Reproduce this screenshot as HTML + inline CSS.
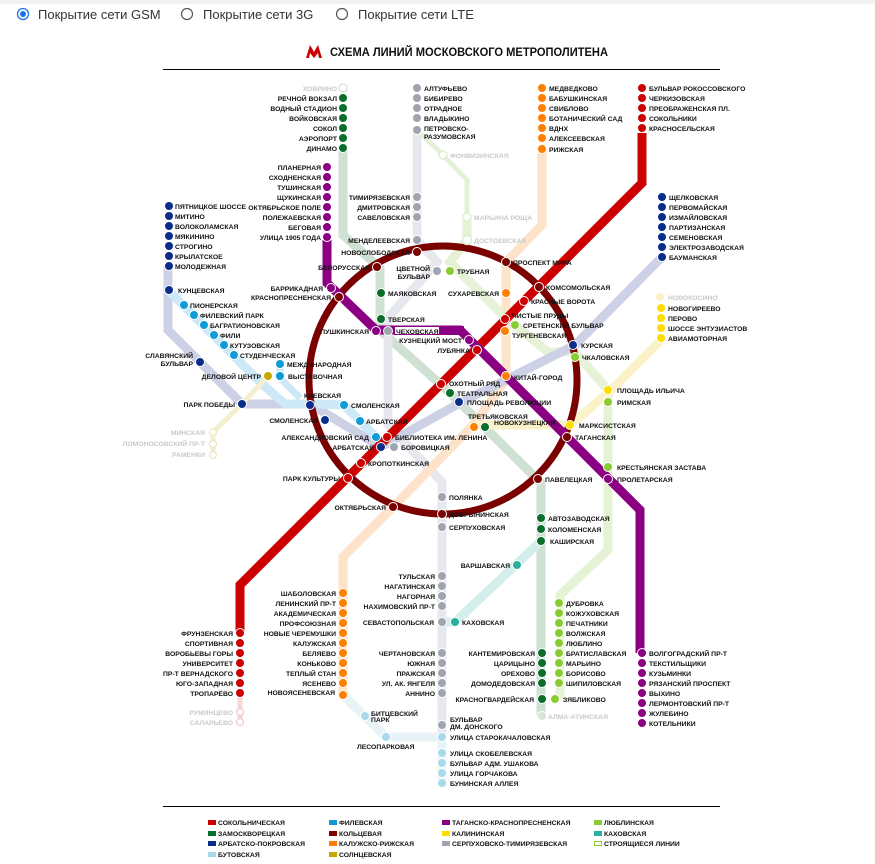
<!DOCTYPE html>
<html><head><meta charset="utf-8"><style>
html,body{margin:0;padding:0;background:#fff;width:875px;height:864px;overflow:hidden}
svg{position:absolute;left:0;top:0}
.t{font-family:"Liberation Sans","DejaVu Sans",sans-serif;font-weight:bold;font-size:6.8px;fill:#111}
.e{text-anchor:end}
.p{fill:#c9c9c9}
.r{font-family:"Liberation Sans","DejaVu Sans",sans-serif;font-size:13px;fill:#333}
</style></head><body>
<svg width="875" height="864" viewBox="0 0 875 864" xmlns="http://www.w3.org/2000/svg">
<rect x="0" y="0" width="875" height="4" fill="#f2f2f2"/>
<circle cx="23" cy="14" r="5.5" fill="#fff" stroke="#1a73e8" stroke-width="1.3"/><circle cx="23" cy="14" r="3" fill="#1a73e8"/>
<text class="r" x="38" y="19">Покрытие сети GSM</text>
<circle cx="187" cy="14" r="5.5" fill="#fff" stroke="#555" stroke-width="1.2"/>
<text class="r" x="203" y="19">Покрытие сети 3G</text>
<circle cx="342" cy="14" r="5.5" fill="#fff" stroke="#555" stroke-width="1.2"/>
<text class="r" x="358" y="19">Покрытие сети LTE</text>
<path d="M306,58 L310,45 L314,52 L318,45 L322,58 L319,58 L318,53 L314,58 L310,53 L309,58Z" fill="#c00"/>
<text x="330" y="56" font-family="Liberation Sans,sans-serif" font-weight="bold" font-size="11.5" fill="#111" textLength="278" lengthAdjust="spacingAndGlyphs">СХЕМА ЛИНИЙ МОСКОВСКОГО МЕТРОПОЛИТЕНА</text>
<line x1="163" y1="69.5" x2="720" y2="69.5" stroke="#000" stroke-width="1"/>
<line x1="163" y1="806.5" x2="720" y2="806.5" stroke="#000" stroke-width="1"/>

<g fill="none" stroke-linejoin="miter">
<path d="M343,150 V235 L380,268 V330 L450,393 L541,483 V716" stroke="#cfe1d2" stroke-width="9"/>
<path d="M417,130 V240 L437,262 L388,318 V425 L442,482 V737" stroke="#e7e8ed" stroke-width="9"/>
<path d="M542,150 V225 L506,262 V380 L474,424 L393,507 L343,557 V695" stroke="#fde3ca" stroke-width="9"/>
<path d="M417,130 L443,155 L467,180 V217" stroke="#e6f2d8" stroke-width="5"/>
<path d="M467,217 V240 L450,262 L506,318 L548,352 H575 L608,390 V550 L560,595 V699" stroke="#e5f2d6" stroke-width="9"/>
<path d="M168,266 V330 L200,362 L242,404 H310 L381,447 L460,403 L575,345 L662,257" stroke="#ccd1e6" stroke-width="9"/>
<path d="M168,290 L234,356 L262,384 L285,404 H310 L344,405 L376,437" stroke="#cde8f6" stroke-width="9"/>
<path d="M280,364 V378 L300,398" stroke="#cde8f6" stroke-width="7"/>
<path d="M661,340 L608,393 L570,425 H473" stroke="#fbf2c9" stroke-width="9"/>
<path d="M268,376 L242,404 L213,432 V456" stroke="#f4eecc" stroke-width="5"/>
<path d="M541,541 L455,622 H442" stroke="#d3eeeb" stroke-width="9"/>
<path d="M343,695 L386,737 H442 V783" stroke="#e8f3f8" stroke-width="9"/>
<path d="M240,640 V722" stroke="#f6d6d6" stroke-width="5"/>
<circle cx="443" cy="380" r="134" stroke="#7b0000" stroke-width="7"/>
<path d="M642,133 V183 L240,585 V632" stroke="#cc0000" stroke-width="9"/>
<path d="M327,240 V283 L376,330 H460 L470,340 L506,376 L567,437 L640,510 V653" stroke="#8b0083" stroke-width="9"/>
</g>
<rect x="394" y="326" width="70" height="9" fill="#8b0083"/>
<rect x="395" y="327" width="44" height="7" fill="#fff"/>

<g stroke="#fff" stroke-width="1">
<g fill="#0b6f2c"><circle cx="343" cy="98" r="4.5"/><circle cx="343" cy="108" r="4.5"/><circle cx="343" cy="118" r="4.5"/><circle cx="343" cy="128" r="4.5"/><circle cx="343" cy="138" r="4.5"/><circle cx="343" cy="148" r="4.5"/>
<circle cx="381" cy="293" r="4.5"/><circle cx="381" cy="319" r="4.5"/><circle cx="450" cy="393" r="4.5"/><circle cx="485" cy="427" r="4.5"/>
<circle cx="541" cy="518" r="4.5"/><circle cx="541" cy="529" r="4.5"/><circle cx="541" cy="541" r="4.5"/>
<circle cx="542" cy="653" r="4.5"/><circle cx="542" cy="663" r="4.5"/><circle cx="542" cy="673" r="4.5"/><circle cx="542" cy="683" r="4.5"/><circle cx="542" cy="699" r="4.5"/></g>
<circle cx="343" cy="88" r="4" fill="#fff" stroke="#d8e8d8" stroke-width="1.5"/>
<circle cx="542" cy="716" r="4.5" fill="#d5e6d8"/>
<g fill="#8b0083"><circle cx="327" cy="167" r="4.5"/><circle cx="327" cy="177" r="4.5"/><circle cx="327" cy="187" r="4.5"/><circle cx="327" cy="197" r="4.5"/><circle cx="327" cy="207" r="4.5"/><circle cx="327" cy="217" r="4.5"/><circle cx="327" cy="227" r="4.5"/><circle cx="327" cy="237" r="4.5"/>
<circle cx="331" cy="288" r="4.5"/><circle cx="376" cy="331" r="4.5"/><circle cx="469" cy="340" r="4.5"/><circle cx="608" cy="479" r="4.5"/>
<circle cx="642" cy="653" r="4.5"/><circle cx="642" cy="663" r="4.5"/><circle cx="642" cy="673" r="4.5"/><circle cx="642" cy="683" r="4.5"/><circle cx="642" cy="693" r="4.5"/><circle cx="642" cy="703" r="4.5"/><circle cx="642" cy="713" r="4.5"/><circle cx="642" cy="723" r="4.5"/></g>
<g fill="#0a2d8c"><circle cx="169" cy="206" r="4.5"/><circle cx="169" cy="216" r="4.5"/><circle cx="169" cy="226" r="4.5"/><circle cx="169" cy="236" r="4.5"/><circle cx="169" cy="246" r="4.5"/><circle cx="169" cy="256" r="4.5"/><circle cx="169" cy="266" r="4.5"/>
<circle cx="169" cy="290" r="4.5"/><circle cx="200" cy="362" r="4.5"/><circle cx="325" cy="420" r="4.5"/><circle cx="381" cy="447" r="4.5"/><circle cx="459" cy="402" r="4.5"/><circle cx="242" cy="404" r="4.5"/><circle cx="310" cy="405" r="4.5"/><circle cx="573" cy="345" r="4.5"/>
<circle cx="662" cy="197" r="4.5"/><circle cx="662" cy="207" r="4.5"/><circle cx="662" cy="217" r="4.5"/><circle cx="662" cy="227" r="4.5"/><circle cx="662" cy="237" r="4.5"/><circle cx="662" cy="247" r="4.5"/><circle cx="662" cy="257" r="4.5"/></g>
<g fill="#0e9bd6"><circle cx="184" cy="305" r="4.5"/><circle cx="194" cy="315" r="4.5"/><circle cx="204" cy="325" r="4.5"/><circle cx="214" cy="335" r="4.5"/><circle cx="224" cy="345" r="4.5"/><circle cx="234" cy="355" r="4.5"/><circle cx="280" cy="364" r="4.5"/><circle cx="280" cy="376" r="4.5"/><circle cx="344" cy="405" r="4.5"/><circle cx="360" cy="421" r="4.5"/><circle cx="376" cy="437" r="4.5"/></g>
<circle cx="268" cy="376" r="4.5" fill="#c8a800"/>
<g fill="#7b0000"><circle cx="417" cy="252" r="4.5"/><circle cx="377" cy="267" r="4.5"/><circle cx="339" cy="297" r="4.5"/><circle cx="442" cy="514" r="4.5"/><circle cx="538" cy="479" r="4.5"/><circle cx="567" cy="437" r="4.5"/><circle cx="539" cy="287" r="4.5"/><circle cx="506" cy="262" r="4.5"/><circle cx="393" cy="507" r="4.5"/></g>
<g fill="#cc0000"><circle cx="642" cy="88" r="4.5"/><circle cx="642" cy="98" r="4.5"/><circle cx="642" cy="108" r="4.5"/><circle cx="642" cy="118" r="4.5"/><circle cx="642" cy="128" r="4.5"/>
<circle cx="524" cy="301" r="4.5"/><circle cx="505" cy="319" r="4.5"/><circle cx="477" cy="350" r="4.5"/><circle cx="441" cy="384" r="4.5"/><circle cx="387" cy="437" r="4.5"/><circle cx="361" cy="463" r="4.5"/><circle cx="348" cy="478" r="4.5"/>
<circle cx="240" cy="633" r="4.5"/><circle cx="240" cy="643" r="4.5"/><circle cx="240" cy="653" r="4.5"/><circle cx="240" cy="663" r="4.5"/><circle cx="240" cy="673" r="4.5"/><circle cx="240" cy="683" r="4.5"/><circle cx="240" cy="693" r="4.5"/></g>
<circle cx="240" cy="712" r="3.5" fill="#fff" stroke="#f2caca" stroke-width="1.3"/><circle cx="240" cy="722" r="3.5" fill="#fff" stroke="#f2caca" stroke-width="1.3"/>
<g fill="#ff8000"><circle cx="542" cy="88" r="4.5"/><circle cx="542" cy="98" r="4.5"/><circle cx="542" cy="108" r="4.5"/><circle cx="542" cy="118" r="4.5"/><circle cx="542" cy="128" r="4.5"/><circle cx="542" cy="138" r="4.5"/><circle cx="542" cy="149" r="4.5"/>
<circle cx="506" cy="293" r="4.5"/><circle cx="505" cy="331" r="4.5"/><circle cx="506" cy="376" r="4.5"/><circle cx="474" cy="427" r="4.5"/>
<circle cx="343" cy="593" r="4.5"/><circle cx="343" cy="603" r="4.5"/><circle cx="343" cy="613" r="4.5"/><circle cx="343" cy="623" r="4.5"/><circle cx="343" cy="633" r="4.5"/><circle cx="343" cy="643" r="4.5"/><circle cx="343" cy="653" r="4.5"/><circle cx="343" cy="663" r="4.5"/><circle cx="343" cy="673" r="4.5"/><circle cx="343" cy="683" r="4.5"/><circle cx="343" cy="695" r="4.5"/></g>
<g fill="#a0a3b0"><circle cx="417" cy="88" r="4.5"/><circle cx="417" cy="98" r="4.5"/><circle cx="417" cy="108" r="4.5"/><circle cx="417" cy="118" r="4.5"/><circle cx="417" cy="130" r="4.5"/><circle cx="417" cy="197" r="4.5"/><circle cx="417" cy="207" r="4.5"/><circle cx="417" cy="217" r="4.5"/><circle cx="417" cy="240" r="4.5"/>
<circle cx="437" cy="271" r="4.5"/><circle cx="388" cy="331" r="4.5"/><circle cx="394" cy="447" r="4.5"/><circle cx="442" cy="497" r="4.5"/><circle cx="442" cy="527" r="4.5"/>
<circle cx="442" cy="576" r="4.5"/><circle cx="442" cy="586" r="4.5"/><circle cx="442" cy="596" r="4.5"/><circle cx="442" cy="606" r="4.5"/><circle cx="442" cy="622" r="4.5"/><circle cx="442" cy="653" r="4.5"/><circle cx="442" cy="663" r="4.5"/><circle cx="442" cy="673" r="4.5"/><circle cx="442" cy="683" r="4.5"/><circle cx="442" cy="693" r="4.5"/><circle cx="442" cy="725" r="4.5"/></g>
<g fill="#88cc33"><circle cx="450" cy="271" r="4.5"/><circle cx="515" cy="325" r="4.5"/><circle cx="575" cy="357" r="4.5"/><circle cx="608" cy="402" r="4.5"/><circle cx="608" cy="467" r="4.5"/>
<circle cx="559" cy="603" r="4.5"/><circle cx="559" cy="613" r="4.5"/><circle cx="559" cy="623" r="4.5"/><circle cx="559" cy="633" r="4.5"/><circle cx="559" cy="643" r="4.5"/><circle cx="559" cy="653" r="4.5"/><circle cx="559" cy="663" r="4.5"/><circle cx="559" cy="673" r="4.5"/><circle cx="559" cy="683" r="4.5"/><circle cx="555" cy="699" r="4.5"/></g>
<g fill="#fff" stroke="#e0eed0" stroke-width="1.5"><circle cx="443" cy="155" r="4"/><circle cx="467" cy="217" r="4"/><circle cx="467" cy="240" r="4.5"/></g>
<g fill="#ffdd00"><circle cx="661" cy="308" r="4.5"/><circle cx="661" cy="318" r="4.5"/><circle cx="661" cy="328" r="4.5"/><circle cx="661" cy="338" r="4.5"/><circle cx="608" cy="390" r="4.5"/><circle cx="570" cy="425" r="4.5"/></g>
<circle cx="660" cy="297" r="4.5" fill="#fbf0c6"/>
<g fill="#fff" stroke="#eee6c0" stroke-width="1.3"><circle cx="213" cy="432" r="3.5"/><circle cx="213" cy="444" r="3.5"/><circle cx="213" cy="455" r="3.5"/></g>
<g fill="#28b0a0"><circle cx="517" cy="565" r="4.5"/><circle cx="455" cy="622" r="4.5"/></g>
<g fill="#a8d8ea"><circle cx="365" cy="716" r="4.5"/><circle cx="386" cy="737" r="4.5"/><circle cx="442" cy="737" r="4.5"/><circle cx="442" cy="753" r="4.5"/><circle cx="442" cy="763" r="4.5"/><circle cx="442" cy="773" r="4.5"/><circle cx="442" cy="783" r="4.5"/></g>
</g>

<g class="t">
<text class="e p" x="337" y="91">ХОВРИНО</text>
<text class="e" x="337" y="101">РЕЧНОЙ ВОКЗАЛ</text>
<text class="e" x="337" y="111">ВОДНЫЙ СТАДИОН</text>
<text class="e" x="337" y="121">ВОЙКОВСКАЯ</text>
<text class="e" x="337" y="131">СОКОЛ</text>
<text class="e" x="337" y="141">АЭРОПОРТ</text>
<text class="e" x="337" y="151">ДИНАМО</text>
<text class="e" x="321" y="170">ПЛАНЕРНАЯ</text>
<text class="e" x="321" y="180">СХОДНЕНСКАЯ</text>
<text class="e" x="321" y="190">ТУШИНСКАЯ</text>
<text class="e" x="321" y="200">ЩУКИНСКАЯ</text>
<text class="e" x="321" y="210">ОКТЯБРЬСКОЕ ПОЛЕ</text>
<text class="e" x="321" y="220">ПОЛЕЖАЕВСКАЯ</text>
<text class="e" x="321" y="230">БЕГОВАЯ</text>
<text class="e" x="321" y="240">УЛИЦА 1905 ГОДА</text>
<text x="175" y="209">ПЯТНИЦКОЕ ШОССЕ</text>
<text x="175" y="219">МИТИНО</text>
<text x="175" y="229">ВОЛОКОЛАМСКАЯ</text>
<text x="175" y="239">МЯКИНИНО</text>
<text x="175" y="249">СТРОГИНО</text>
<text x="175" y="259">КРЫЛАТСКОЕ</text>
<text x="175" y="269">МОЛОДЕЖНАЯ</text>
<text x="178" y="293">КУНЦЕВСКАЯ</text>
<text x="190" y="308">ПИОНЕРСКАЯ</text>
<text x="200" y="318">ФИЛЕВСКИЙ ПАРК</text>
<text x="210" y="328">БАГРАТИОНОВСКАЯ</text>
<text x="220" y="338">ФИЛИ</text>
<text x="230" y="348">КУТУЗОВСКАЯ</text>
<text x="240" y="358">СТУДЕНЧЕСКАЯ</text>
<text class="e" x="193" y="358">СЛАВЯНСКИЙ</text>
<text class="e" x="193" y="366">БУЛЬВАР</text>
<text x="287" y="367">МЕЖДУНАРОДНАЯ</text>
<text x="288" y="379">ВЫСТАВОЧНАЯ</text>
<text class="e" x="261" y="379">ДЕЛОВОЙ ЦЕНТР</text>
<text x="304" y="398">КИЕВСКАЯ</text>
<text class="e" x="235" y="407">ПАРК ПОБЕДЫ</text>
<text class="e p" x="205" y="435">МИНСКАЯ</text>
<text class="e p" x="205" y="446">ЛОМОНОСОВСКИЙ ПР-Т</text>
<text class="e p" x="205" y="457">РАМЕНКИ</text>
<text x="351" y="408">СМОЛЕНСКАЯ</text>
<text class="e" x="318" y="423">СМОЛЕНСКАЯ</text>
<text x="366" y="424">АРБАТСКАЯ</text>
<text class="e" x="369" y="440">АЛЕКСАНДРОВСКИЙ САД</text>
<text x="395" y="440">БИБЛИОТЕКА ИМ. ЛЕНИНА</text>
<text class="e" x="374" y="450">АРБАТСКАЯ</text>
<text x="401" y="450">БОРОВИЦКАЯ</text>
<text x="368" y="466">КРОПОТКИНСКАЯ</text>
<text class="e" x="340" y="481">ПАРК КУЛЬТУРЫ</text>
<text class="e" x="386" y="510">ОКТЯБРЬСКАЯ</text>
<text x="449" y="500">ПОЛЯНКА</text>
<text x="449" y="517">ДОБРЫНИНСКАЯ</text>
<text x="449" y="530">СЕРПУХОВСКАЯ</text>
<text class="e" x="370" y="270">БЕЛОРУССКАЯ</text>
<text class="e" x="410" y="255">НОВОСЛОБОДСКАЯ</text>
<text class="e" x="410" y="243">МЕНДЕЛЕЕВСКАЯ</text>
<text class="e" x="323" y="291">БАРРИКАДНАЯ</text>
<text class="e" x="331" y="300">КРАСНОПРЕСНЕНСКАЯ</text>
<text x="388" y="296">МАЯКОВСКАЯ</text>
<text x="388" y="322">ТВЕРСКАЯ</text>
<text class="e" x="369" y="334">ПУШКИНСКАЯ</text>
<text x="396" y="334">ЧЕХОВСКАЯ</text>
<text class="e" x="462" y="343">КУЗНЕЦКИЙ МОСТ</text>
<text class="e" x="470" y="353">ЛУБЯНКА</text>
<text class="e" x="430" y="271">ЦВЕТНОЙ</text>
<text class="e" x="430" y="279">БУЛЬВАР</text>
<text x="457" y="274">ТРУБНАЯ</text>
<text class="e" x="499" y="296">СУХАРЕВСКАЯ</text>
<text class="p" x="474" y="243">ДОСТОЕВСКАЯ</text>
<text class="p" x="474" y="220">МАРЬИНА РОЩА</text>
<text class="p" x="450" y="158">ФОНВИЗИНСКАЯ</text>
<text x="424" y="131">ПЕТРОВСКО-</text>
<text x="424" y="139">РАЗУМОВСКАЯ</text>
<text class="e" x="410" y="200">ТИМИРЯЗЕВСКАЯ</text>
<text class="e" x="410" y="210">ДМИТРОВСКАЯ</text>
<text class="e" x="410" y="220">САВЕЛОВСКАЯ</text>
<text x="424" y="91">АЛТУФЬЕВО</text>
<text x="424" y="101">БИБИРЕВО</text>
<text x="424" y="111">ОТРАДНОЕ</text>
<text x="424" y="121">ВЛАДЫКИНО</text>
<text x="513" y="265">ПРОСПЕКТ МИРА</text>
<text x="546" y="290">КОМСОМОЛЬСКАЯ</text>
<text x="531" y="304">КРАСНЫЕ ВОРОТА</text>
<text x="512" y="318">ЧИСТЫЕ ПРУДЫ</text>
<text x="523" y="328">СРЕТЕНСКИЙ БУЛЬВАР</text>
<text x="512" y="338">ТУРГЕНЕВСКАЯ</text>
<text x="581" y="348">КУРСКАЯ</text>
<text x="582" y="360">ЧКАЛОВСКАЯ</text>
<text x="514" y="380">КИТАЙ-ГОРОД</text>
<text x="449" y="386">ОХОТНЫЙ РЯД</text>
<text x="457" y="396">ТЕАТРАЛЬНАЯ</text>
<text x="467" y="405">ПЛОЩАДЬ РЕВОЛЮЦИИ</text>
<text x="468" y="419">ТРЕТЬЯКОВСКАЯ</text>
<text x="494" y="425">НОВОКУЗНЕЦКАЯ</text>
<text x="579" y="428">МАРКСИСТСКАЯ</text>
<text x="575" y="440">ТАГАНСКАЯ</text>
<text x="617" y="393">ПЛОЩАДЬ ИЛЬИЧА</text>
<text x="617" y="405">РИМСКАЯ</text>
<text x="617" y="470">КРЕСТЬЯНСКАЯ ЗАСТАВА</text>
<text x="617" y="482">ПРОЛЕТАРСКАЯ</text>
<text x="545" y="482">ПАВЕЛЕЦКАЯ</text>
<text x="549" y="91">МЕДВЕДКОВО</text>
<text x="549" y="101">БАБУШКИНСКАЯ</text>
<text x="549" y="111">СВИБЛОВО</text>
<text x="549" y="121">БОТАНИЧЕСКИЙ САД</text>
<text x="549" y="131">ВДНХ</text>
<text x="549" y="141">АЛЕКСЕЕВСКАЯ</text>
<text x="549" y="152">РИЖСКАЯ</text>
<text x="649" y="91">БУЛЬВАР РОКОССОВСКОГО</text>
<text x="649" y="101">ЧЕРКИЗОВСКАЯ</text>
<text x="649" y="111">ПРЕОБРАЖЕНСКАЯ ПЛ.</text>
<text x="649" y="121">СОКОЛЬНИКИ</text>
<text x="649" y="131">КРАСНОСЕЛЬСКАЯ</text>
<text x="669" y="200">ЩЕЛКОВСКАЯ</text>
<text x="669" y="210">ПЕРВОМАЙСКАЯ</text>
<text x="669" y="220">ИЗМАЙЛОВСКАЯ</text>
<text x="669" y="230">ПАРТИЗАНСКАЯ</text>
<text x="669" y="240">СЕМЕНОВСКАЯ</text>
<text x="669" y="250">ЭЛЕКТРОЗАВОДСКАЯ</text>
<text x="669" y="260">БАУМАНСКАЯ</text>
<text class="p" x="668" y="300">НОВОКОСИНО</text>
<text x="668" y="311">НОВОГИРЕЕВО</text>
<text x="668" y="321">ПЕРОВО</text>
<text x="668" y="331">ШОССЕ ЭНТУЗИАСТОВ</text>
<text x="668" y="341">АВИАМОТОРНАЯ</text>
<text class="e" x="233" y="636">ФРУНЗЕНСКАЯ</text>
<text class="e" x="233" y="646">СПОРТИВНАЯ</text>
<text class="e" x="233" y="656">ВОРОБЬЕВЫ ГОРЫ</text>
<text class="e" x="233" y="666">УНИВЕРСИТЕТ</text>
<text class="e" x="233" y="676">ПР-Т ВЕРНАДСКОГО</text>
<text class="e" x="233" y="686">ЮГО-ЗАПАДНАЯ</text>
<text class="e" x="233" y="696">ТРОПАРЁВО</text>
<text class="e p" x="233" y="715">РУМЯНЦЕВО</text>
<text class="e p" x="233" y="725">САЛАРЬЕВО</text>
<text class="e" x="336" y="596">ШАБОЛОВСКАЯ</text>
<text class="e" x="336" y="606">ЛЕНИНСКИЙ ПР-Т</text>
<text class="e" x="336" y="616">АКАДЕМИЧЕСКАЯ</text>
<text class="e" x="336" y="626">ПРОФСОЮЗНАЯ</text>
<text class="e" x="336" y="636">НОВЫЕ ЧЕРЕМУШКИ</text>
<text class="e" x="336" y="646">КАЛУЖСКАЯ</text>
<text class="e" x="336" y="656">БЕЛЯЕВО</text>
<text class="e" x="336" y="666">КОНЬКОВО</text>
<text class="e" x="336" y="676">ТЕПЛЫЙ СТАН</text>
<text class="e" x="336" y="686">ЯСЕНЕВО</text>
<text class="e" x="335" y="695">НОВОЯСЕНЕВСКАЯ</text>
<text x="371" y="716">БИТЦЕВСКИЙ</text>
<text x="371" y="722">ПАРК</text>
<text x="357" y="749">ЛЕСОПАРКОВАЯ</text>
<text class="e" x="435" y="579">ТУЛЬСКАЯ</text>
<text class="e" x="435" y="589">НАГАТИНСКАЯ</text>
<text class="e" x="435" y="599">НАГОРНАЯ</text>
<text class="e" x="435" y="609">НАХИМОВСКИЙ ПР-Т</text>
<text class="e" x="434" y="625">СЕВАСТОПОЛЬСКАЯ</text>
<text x="462" y="625">КАХОВСКАЯ</text>
<text class="e" x="510" y="568">ВАРШАВСКАЯ</text>
<text x="550" y="544">КАШИРСКАЯ</text>
<text class="e" x="435" y="656">ЧЕРТАНОВСКАЯ</text>
<text class="e" x="435" y="666">ЮЖНАЯ</text>
<text class="e" x="435" y="676">ПРАЖСКАЯ</text>
<text class="e" x="435" y="686">УЛ. АК. ЯНГЕЛЯ</text>
<text class="e" x="435" y="696">АННИНО</text>
<text x="450" y="722">БУЛЬВАР</text>
<text x="450" y="729">ДМ. ДОНСКОГО</text>
<text x="450" y="740">УЛИЦА СТАРОКАЧАЛОВСКАЯ</text>
<text x="450" y="756">УЛИЦА СКОБЕЛЕВСКАЯ</text>
<text x="450" y="766">БУЛЬВАР АДМ. УШАКОВА</text>
<text x="450" y="776">УЛИЦА ГОРЧАКОВА</text>
<text x="450" y="786">БУНИНСКАЯ АЛЛЕЯ</text>
<text x="548" y="521">АВТОЗАВОДСКАЯ</text>
<text x="548" y="532">КОЛОМЕНСКАЯ</text>
<text class="e" x="535" y="656">КАНТЕМИРОВСКАЯ</text>
<text class="e" x="535" y="666">ЦАРИЦЫНО</text>
<text class="e" x="535" y="676">ОРЕХОВО</text>
<text class="e" x="535" y="686">ДОМОДЕДОВСКАЯ</text>
<text class="e" x="534" y="702">КРАСНОГВАРДЕЙСКАЯ</text>
<text class="p" x="548" y="719">АЛМА-АТИНСКАЯ</text>
<text x="566" y="606">ДУБРОВКА</text>
<text x="566" y="616">КОЖУХОВСКАЯ</text>
<text x="566" y="626">ПЕЧАТНИКИ</text>
<text x="566" y="636">ВОЛЖСКАЯ</text>
<text x="566" y="646">ЛЮБЛИНО</text>
<text x="566" y="656">БРАТИСЛАВСКАЯ</text>
<text x="566" y="666">МАРЬИНО</text>
<text x="566" y="676">БОРИСОВО</text>
<text x="566" y="686">ШИПИЛОВСКАЯ</text>
<text x="563" y="702">ЗЯБЛИКОВО</text>
<text x="649" y="656">ВОЛГОГРАДСКИЙ ПР-Т</text>
<text x="649" y="666">ТЕКСТИЛЬЩИКИ</text>
<text x="649" y="676">КУЗЬМИНКИ</text>
<text x="649" y="686">РЯЗАНСКИЙ ПРОСПЕКТ</text>
<text x="649" y="696">ВЫХИНО</text>
<text x="649" y="706">ЛЕРМОНТОВСКИЙ ПР-Т</text>
<text x="649" y="716">ЖУЛЕБИНО</text>
<text x="649" y="726">КОТЕЛЬНИКИ</text>
</g>

<g>
<rect x="208" y="820" width="8" height="5" fill="#cc0000"/><rect x="208" y="831" width="8" height="5" fill="#0b6f2c"/><rect x="208" y="841" width="8" height="5" fill="#0a2d8c"/><rect x="208" y="852" width="8" height="5" fill="#a8d8ea"/>
<rect x="329" y="820" width="8" height="5" fill="#0e9bd6"/><rect x="329" y="831" width="8" height="5" fill="#7b0000"/><rect x="329" y="841" width="8" height="5" fill="#ff8000"/><rect x="329" y="852" width="8" height="5" fill="#c8a800"/>
<rect x="442" y="820" width="8" height="5" fill="#8b0083"/><rect x="442" y="831" width="8" height="5" fill="#ffdd00"/><rect x="442" y="841" width="8" height="5" fill="#a0a3b0"/>
<rect x="594" y="820" width="8" height="5" fill="#88cc33"/><rect x="594" y="831" width="8" height="5" fill="#28b0a0"/><rect x="594.5" y="841.5" width="7" height="4" fill="#fff" stroke="#88cc33"/>
</g>
<g class="t">
<text x="218" y="825">СОКОЛЬНИЧЕСКАЯ</text><text x="218" y="836">ЗАМОСКВОРЕЦКАЯ</text><text x="218" y="846">АРБАТСКО-ПОКРОВСКАЯ</text><text x="218" y="857">БУТОВСКАЯ</text>
<text x="339" y="825">ФИЛЕВСКАЯ</text><text x="339" y="836">КОЛЬЦЕВАЯ</text><text x="339" y="846">КАЛУЖСКО-РИЖСКАЯ</text><text x="339" y="857">СОЛНЦЕВСКАЯ</text>
<text x="452" y="825">ТАГАНСКО-КРАСНОПРЕСНЕНСКАЯ</text><text x="452" y="836">КАЛИНИНСКАЯ</text><text x="452" y="846">СЕРПУХОВСКО-ТИМИРЯЗЕВСКАЯ</text>
<text x="604" y="825">ЛЮБЛИНСКАЯ</text><text x="604" y="836">КАХОВСКАЯ</text><text x="604" y="846">СТРОЯЩИЕСЯ ЛИНИИ</text>
</g>
</svg>
</body></html>
